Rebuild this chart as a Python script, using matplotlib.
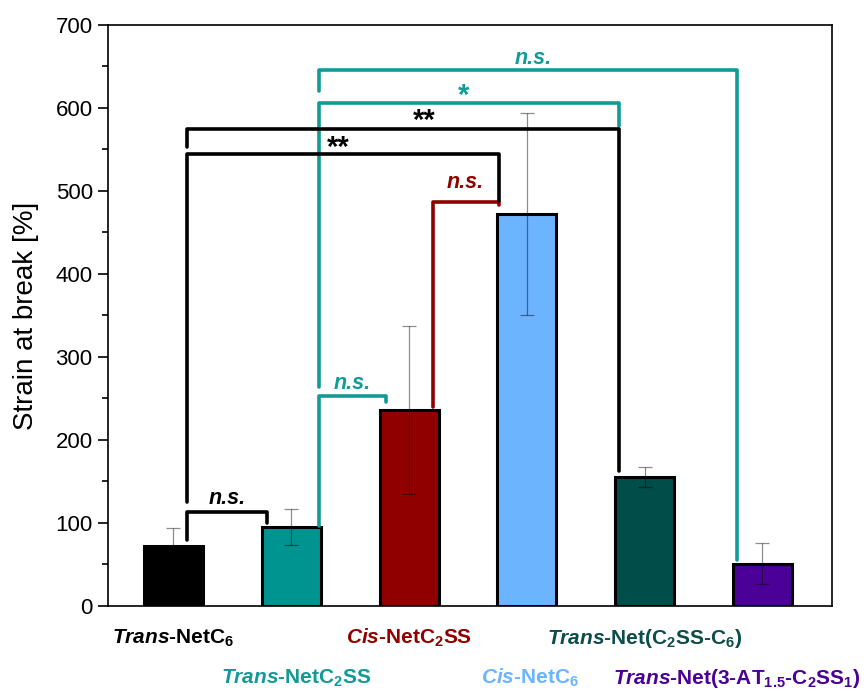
import matplotlib
matplotlib.use('Agg')
import matplotlib.pyplot as plt
from matplotlib import font_manager
from matplotlib.ticker import MultipleLocator

# pick a narrow sans for the group labels if one is around
names = set(f.name for f in font_manager.fontManager.ttflist)
narrow = 'Liberation Sans Narrow' if 'Liberation Sans Narrow' in names else 'Liberation Sans'

plt.rcParams['font.family'] = ['Liberation Sans', 'DejaVu Sans']
plt.rcParams['mathtext.fontset'] = 'custom'
plt.rcParams['mathtext.rm'] = narrow + ':bold'
plt.rcParams['mathtext.it'] = narrow + ':italic:bold'
plt.rcParams['mathtext.bf'] = narrow + ':bold'

# strain at break, mean and standard deviation
positions = [1, 2, 3, 4, 5, 6]
strain = [72, 95, 236, 472, 155, 51]
strain_sd = [22, 22, 101, 122, 12, 25]
bar_colors = ['#000000', '#009490', '#910000', '#6db4ff', '#004d4a', '#4b0097']
label_colors = ['#000000', '#129a96', '#910000', '#6db4ff', '#0d4d49', '#4b0097']
labels = [r'$\mathit{Trans}$-NetC$_6$',
          r'$\mathit{Trans}$-NetC$_2$SS',
          r'$\mathit{Cis}$-NetC$_2$SS',
          r'$\mathit{Cis}$-NetC$_6$',
          r'$\mathit{Trans}$-Net(C$_2$SS-C$_6$)',
          r'$\mathit{Trans}$-Net(3-AT$_{1.5}$-C$_2$SS$_1$)']
label_x = [1, 2.04, 3, 4.03, 5, 5.78]
label_y = [-46, -94, -46, -94, -46, -94]

# significance brackets: left x, right x, height, left leg end, right leg end
teal = '#129a96'
brackets = [
    (2.235, 5.783, 646, 620, 55, teal),
    (2.235, 4.782, 606, 264, 578, teal),
    (2.235, 2.804, 253, 96, 246, teal),
    (3.203, 3.763, 487, 240, 483, '#910000'),
    (1.115, 4.782, 575, 553, 163, '#000000'),
    (1.115, 3.763, 545, 125, 488, '#000000'),
    (1.115, 1.794, 113, 80, 100, '#000000'),
]
# significance marks: x, y (baseline), text, colour
marks = [
    (4.05, 653, 'n.s.', teal),
    (3.46, 605, '*', teal),
    (3.13, 575, '**', '#000000'),
    (2.40, 542, '**', '#000000'),
    (3.48, 503, 'n.s.', '#910000'),
    (2.52, 261, 'n.s.', teal),
    (1.46, 123, 'n.s.', '#000000'),
]

fig = plt.figure(figsize=(8.66, 6.91), dpi=100)
ax = fig.add_axes([0.1247, 0.123, 0.836, 0.841])

ax.bar(positions, strain, width=0.5, color=bar_colors, edgecolor='black',
       linewidth=2.2, zorder=2)
ax.errorbar(positions, strain, yerr=strain_sd, fmt='none', ecolor='black',
            alpha=0.45, elinewidth=0.9, capsize=5, capthick=0.9, zorder=3)

for x1, x2, y, e1, e2, c in brackets:
    ax.plot([x1, x1, x2, x2], [e1, y, y, e2], color=c, linewidth=2.6,
            solid_joinstyle='round', solid_capstyle='round', zorder=4)

for x, y, s, c in marks:
    if s == 'n.s.':
        ax.text(x, y, s, color=c, fontsize=15.5, fontweight='bold',
                fontstyle='italic', ha='center', va='baseline', zorder=5)
    else:
        ax.text(x, y, s, color=c, fontsize=21, fontweight='bold',
                ha='center', va='baseline', zorder=5)

for x, y, s, c in zip(label_x, label_y, labels, label_colors):
    ax.text(x, y, s, color=c, fontsize=15, fontweight='bold', family=narrow,
            ha='center', va='baseline', clip_on=False)

ax.set_xlim(0.444, 6.59)
ax.set_ylim(0, 700)
ax.set_xticks([])
ax.yaxis.set_major_locator(MultipleLocator(100))
ax.yaxis.set_minor_locator(MultipleLocator(50))
ax.tick_params(axis='y', which='major', direction='out', length=7, width=1.2,
               labelsize=16, pad=4)
ax.tick_params(axis='y', which='minor', direction='out', length=4, width=1.2)
for sp in ax.spines.values():
    sp.set_linewidth(1.2)
ax.set_ylabel('Strain at break [%]', fontsize=20, labelpad=12)

fig.savefig('out.png', dpi=100)
